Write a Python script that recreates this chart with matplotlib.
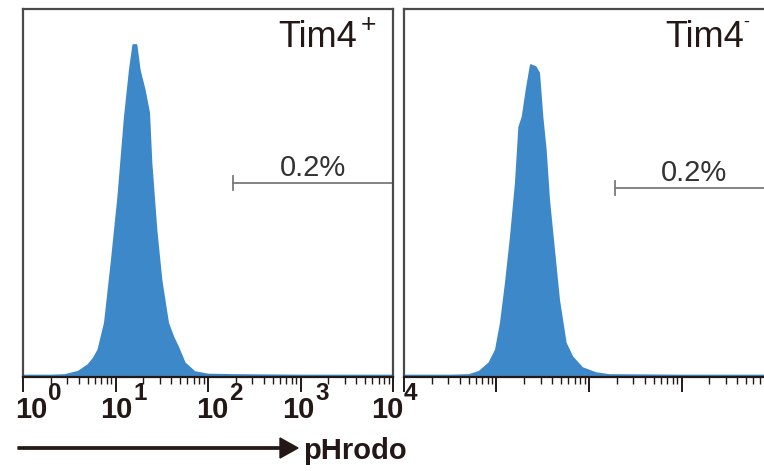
import numpy as np
import matplotlib
matplotlib.use("Agg")
import matplotlib.pyplot as plt
from matplotlib.ticker import LogLocator, NullFormatter

plt.rcParams['font.family'] = ['Liberation Sans', 'DejaVu Sans']

# ---- data (log10 of pHrodo intensity, relative count) ----
tim4pos_log = [0.0, 0.30, 0.447, 0.591, 0.699, 0.760, 0.808, 0.879, 0.951, 1.024, 1.095, 1.149,
               1.186, 1.222, 1.257, 1.311, 1.359, 1.384, 1.438, 1.492, 1.564, 1.620, 1.672,
               1.744, 1.852, 1.997, 2.28, 3.0, 4.0]
tim4pos_cnt = [1.5, 1.5, 2, 5.3, 12, 19, 27, 54, 114, 180, 260, 307,
               332, 332, 307, 287, 264, 214, 147, 97, 54, 40, 30,
               14, 5, 2.5, 2, 1.5, 1.5]

tim4neg_log = [0.0, 0.50, 0.699, 0.808, 0.916, 0.987, 1.041, 1.095, 1.149, 1.203, 1.240,
               1.276, 1.319, 1.365, 1.419, 1.456, 1.492, 1.528, 1.564, 1.618, 1.672,
               1.744, 1.816, 1.924, 2.068, 2.213, 3.0, 4.0]
tim4neg_cnt = [1.5, 1.5, 2, 5.3, 14, 27, 54, 94, 140, 194, 250,
               260, 287, 312, 310, 304, 260, 227, 177, 127, 77,
               34, 20, 9, 4, 2, 1.5, 1.5]

panel_titles = ["Tim4", "Tim4"]
panel_sups = ["+", "-"]
gate_start = [186, 191]
gate_end = [1e4, 1e4]
gate_level = [0.526, 0.512]
gate_pct = ["0.2%", "0.2%"]
tick_vals = [1, 10, 100, 1000, 10000]
tick_exps = ["0", "1", "2", "3", "4"]
xlabel = "pHrodo"

fill_color = "#3d88c8"
frame_color = "#4a4a4a"
text_color = "#231815"

W, H = 764, 471
fig = plt.figure(figsize=(W / 100, H / 100), dpi=100)

def px_axes(x0, y0, x1, y1):
    return [x0 / W, 1 - y1 / H, (x1 - x0) / W, (y1 - y0) / H]

axes = [fig.add_axes(px_axes(23, 8.5, 393, 376.5)),
        fig.add_axes(px_axes(404, 8.5, 774, 376.5))]

data = [(tim4pos_log, tim4pos_cnt), (tim4neg_log, tim4neg_cnt)]
for i, ax in enumerate(axes):
    lx, cnt = data[i]
    xs = 10 ** np.asarray(lx)
    ax.fill_between(xs, 0, cnt, color=fill_color, linewidth=1.2, edgecolor=fill_color)
    ax.set_xscale('log')
    ax.set_xlim(1, 1e4)
    ax.set_ylim(0, 368)
    ax.set_yticks([])
    for s in ax.spines.values():
        s.set_color(frame_color)
        s.set_linewidth(1.6)
    ax.spines['bottom'].set_color(text_color)
    ax.xaxis.set_major_locator(LogLocator(base=10, numticks=10))
    ax.xaxis.set_minor_locator(LogLocator(base=10, subs=np.arange(2, 10), numticks=20))
    ax.xaxis.set_minor_formatter(NullFormatter())
    ax.set_xticklabels([])
    ax.tick_params(axis='x', which='major', length=11, width=1.4, color=text_color, direction='out')
    ax.tick_params(axis='x', which='minor', length=5, width=1.0, color=text_color, direction='out')

    # gate
    ax.plot([gate_start[i], gate_end[i]], [gate_level[i], gate_level[i]],
            transform=ax.get_xaxis_transform(), color="#7a7a7a", lw=1.3, clip_on=False)
    ax.plot([gate_start[i], gate_start[i]], [gate_level[i] - 0.02, gate_level[i] + 0.02],
            transform=ax.get_xaxis_transform(), color="#7a7a7a", lw=1.3)
    gx = 10 ** ((np.log10(gate_start[i]) + 4) / 2)
    ax.annotate(gate_pct[i], xy=(gx, gate_level[i]), xycoords=('data', 'axes fraction'),
                xytext=(0, 7), textcoords='offset pixels', ha='center', va='baseline',
                fontsize=21, color="#333333")

# panel titles
fig.text(278 / W, 1 - 47 / H, panel_titles[0], ha='left', va='baseline', fontsize=26, color=text_color)
fig.text(665 / W, 1 - 47 / H, panel_titles[1], ha='left', va='baseline', fontsize=26, color=text_color)
fig.text(361 / W, 1 - 32 / H, panel_sups[0], ha='left', va='baseline', fontsize=19, color=text_color)
fig.text(743 / W, 1 - 27 / H, panel_sups[1], ha='left', va='baseline', fontsize=13, color=text_color)

# tick labels for the left panel
ax = axes[0]
shifts = [8, 1, 4, -2, -6]
for v, e, sh in zip(tick_vals, tick_exps, shifts):
    ax.annotate("10", xy=(v, 0), xycoords=('data', 'axes fraction'),
                xytext=(sh, -42), textcoords='offset pixels', ha='center', va='baseline',
                fontsize=21, fontweight='bold', color=text_color, annotation_clip=False)
    ax.annotate(e, xy=(v, 0), xycoords=('data', 'axes fraction'),
                xytext=(sh + 17, -24), textcoords='offset pixels', ha='left', va='baseline',
                fontsize=17.5, fontweight='bold', color=text_color, annotation_clip=False)

# axis label with arrow
fig.patches.append(matplotlib.patches.FancyArrow(
    18 / W, 1 - 448 / H, 262 / W, 0, width=2.3 / H, head_width=20 / H, head_length=18 / W,
    length_includes_head=False, color=text_color, transform=fig.transFigure, figure=fig))
fig.text(303 / W, 1 - 459 / H, xlabel, ha='left', va='baseline', fontsize=21,
         fontweight='bold', color=text_color)

fig.savefig("out.png", dpi=100)
